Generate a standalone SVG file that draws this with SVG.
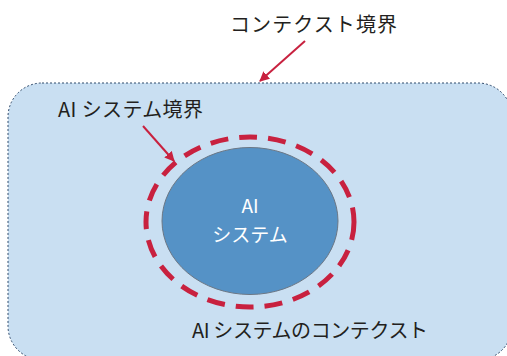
<svg xmlns="http://www.w3.org/2000/svg" width="507" height="356" viewBox="0 0 507 356">
<defs>
<style>
.lbl{font-family:"Noto Sans CJK JP","Noto Sans",sans-serif;fill:#231f20;font-size:20px}
.wh{font-family:"Noto Sans CJK JP","Noto Sans",sans-serif;fill:#ffffff;font-size:19px;text-anchor:middle}
.arr{stroke:#c8213f;stroke-width:2;fill:none}
</style>
<marker id="ah" viewBox="0 0 10 10" refX="9" refY="5" markerWidth="5" markerHeight="5" orient="auto" markerUnits="strokeWidth">
<path d="M0,0 L10,5 L0,10 z" fill="#c8213f"/>
</marker>
</defs>
<rect width="507" height="356" fill="#ffffff"/>
<g id="context">
<rect x="8" y="83" width="504" height="277" rx="34" ry="34" fill="#c9dff2" stroke="#2f4a6b" stroke-width="1" stroke-dasharray="2,2"/>
<text class="lbl" x="192" y="338" textLength="236" lengthAdjust="spacing">AI システムのコンテクスト</text>
</g>
<g id="boundary">
<ellipse cx="250" cy="222" rx="104" ry="85" fill="none" stroke="#c8213f" stroke-width="5" stroke-dasharray="18,11"/>
</g>
<g id="aisystem">
<ellipse cx="250" cy="221" rx="88" ry="73.5" fill="#5592c6" stroke="#6b7785" stroke-width="1"/>
<text class="wh" x="250" y="213">AI</text>
<text class="wh" x="250" y="242">システム</text>
</g>
<g id="label-context">
<text class="lbl" x="230" y="32" font-size="21" textLength="167" lengthAdjust="spacing">コンテクスト境界</text>
</g>
<g id="label-boundary">
<text class="lbl" x="58" y="117" textLength="145" lengthAdjust="spacing">AI システム境界</text>
</g>
<g id="connectors">
<line class="arr" x1="305" y1="41" x2="260" y2="81" marker-end="url(#ah)"/>
<line class="arr" x1="143" y1="126" x2="174" y2="161" marker-end="url(#ah)"/>
</g>
</svg>
